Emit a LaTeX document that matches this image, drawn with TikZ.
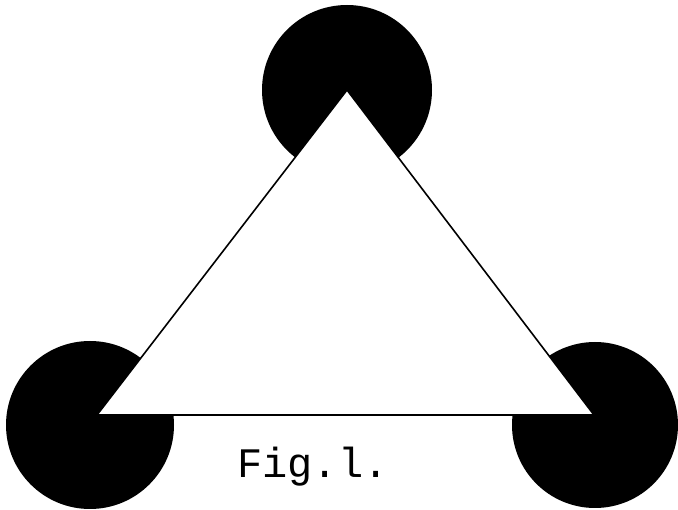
\documentclass[tikz,border=0pt]{standalone}
\usepackage{fontspec}
\newfontfamily\figfont{Liberation Mono}
\tikzset{
    blob/.style={fill=black},
    plate/.style={fill=white, draw=black, line width=1.6pt, line join=miter}
}

\begin{document}
\begin{tikzpicture}[x=1pt, y=-1pt]
    % Fix the page size
    \useasboundingbox (0,0) rectangle (678,510);

    % Corners of the triangle
    \coordinate (apex) at (347,90);
    \coordinate (left) at (97,415);
    \coordinate (right) at (594,415);

    % Draw the black disks
    \fill[blob] (347,90) circle (85);
    \fill[blob] (90,425) circle (84);
    \fill[blob] (595,425) circle (83);

    % Draw the white triangle on top
    \draw[plate] (apex) -- (left) -- (right) -- cycle;

    % Caption
    \node[anchor=base west, inner sep=0pt, font=\figfont\fontsize{42}{42}\selectfont] (caption) at (237,478) {Fig.l.};
\end{tikzpicture}
\end{document}
